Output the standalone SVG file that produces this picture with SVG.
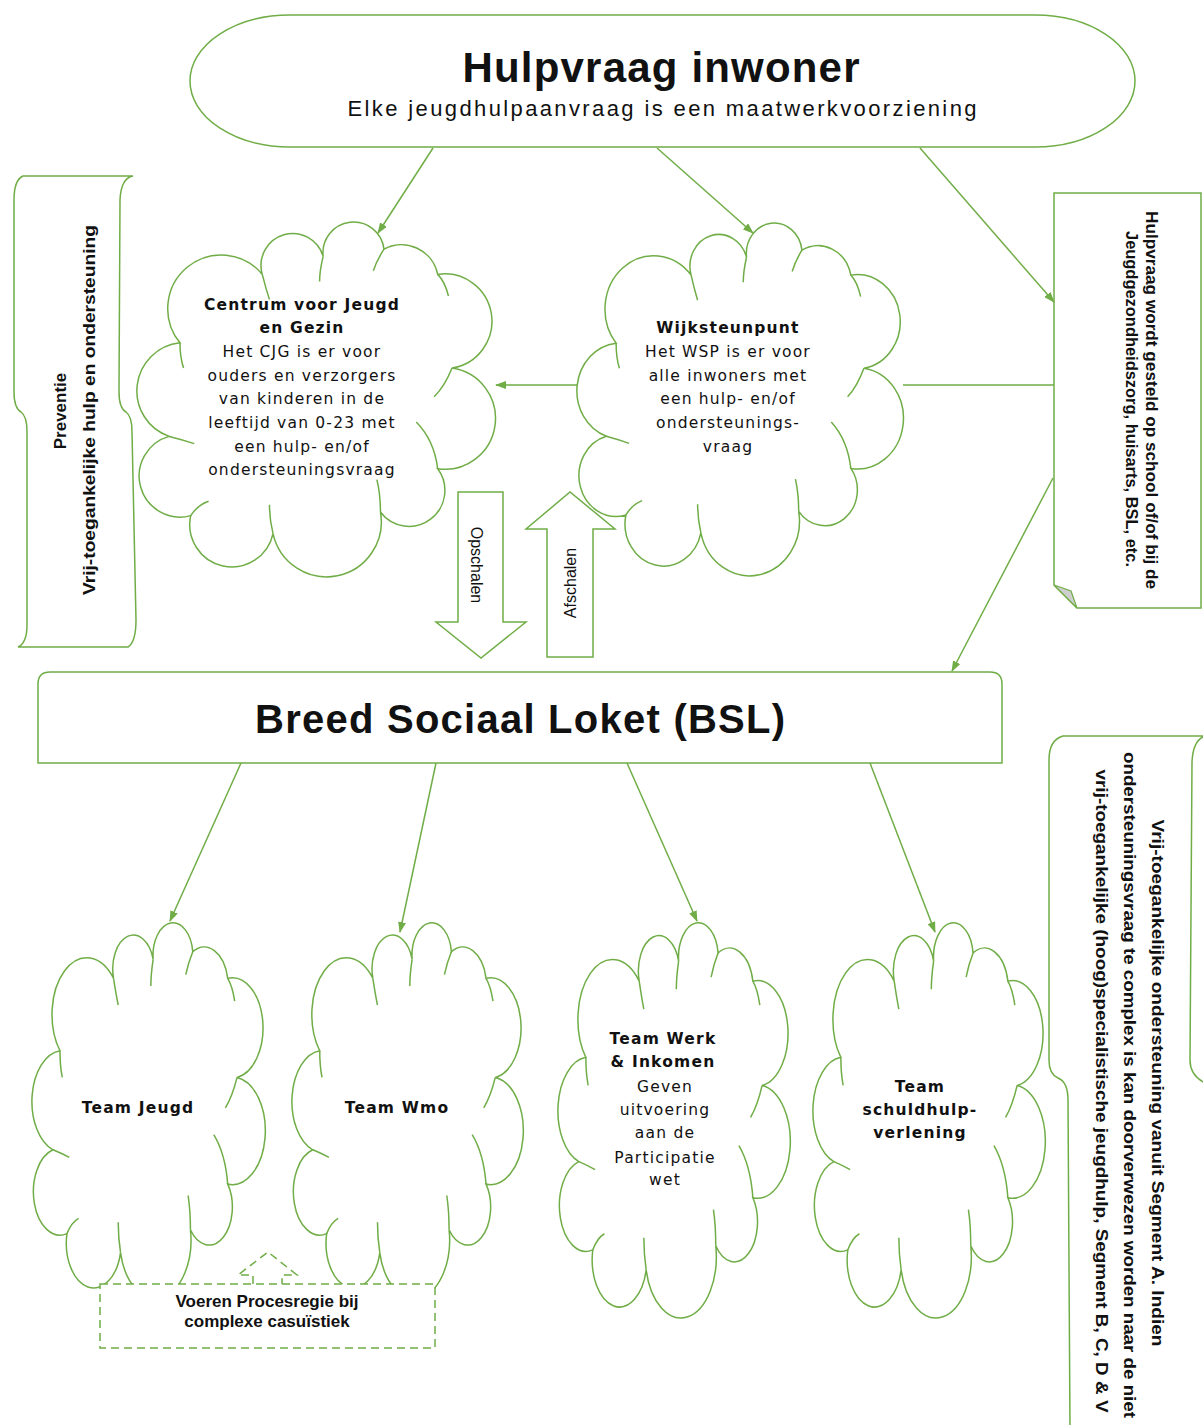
<svg xmlns="http://www.w3.org/2000/svg" xmlns:xlink="http://www.w3.org/1999/xlink" width="1203" height="1425" viewBox="0 0 1203 1425">
<style>
.sh{fill:#fff;stroke:#70AD47;stroke-width:1.5}
.cl{fill:#fff;stroke:#70AD47;stroke-width:1.5}
.tk{fill:none;stroke:#70AD47;stroke-width:1.5}
.cn{fill:none;stroke:#70AD47;stroke-width:1.5}
.ds{fill:#fff;stroke:#70AD47;stroke-width:1.5;stroke-dasharray:8 5}
.ct{font-family:"DejaVu Sans",Verdana,sans-serif;font-size:15.5px;letter-spacing:1.2px;fill:#111;text-anchor:middle}
.cb{font-weight:bold}
.lb{font-family:"Liberation Sans",Arial,sans-serif;fill:#111;text-anchor:middle}
</style>
<defs>
<marker id="ah" markerUnits="userSpaceOnUse" markerWidth="11" markerHeight="8" refX="10" refY="4" orient="auto">
<path d="M0,0 L11,4 L0,8 Z" fill="#70AD47"/>
</marker>
<path id="cloudOut" vector-effect="non-scaling-stroke" d="M12,33 A14.9,14.9 0 0 1 35,14 A8.8,8.8 0 0 1 52,9 A8.5,8.5 0 0 1 69,7 A10.3,10.3 0 0 1 84,14 A13.1,13.1 0 0 1 88,40 A14.1,14.1 0 0 1 84,68 A10,10 0 0 1 68,80 A15.3,15.3 0 0 1 38,86 A11.7,11.7 0 0 1 15,81 A11.4,11.4 0 0 1 9,59 A13.4,13.4 0 0 1 12,33 Z"/>
<path id="cloudTick" vector-effect="non-scaling-stroke" d="M35,14 Q36,18 37,21 M52,9 Q51,13 51,16 M69,7 Q67,10 66,13 M84,14 Q86,16 87,20 M88,40 Q86,45 83,48 M84,68 Q83,60 78,55 M68,80 Q68,75 67,71 M38,86 Q37,82 37,78 M15,81 Q17,78 20,77 M9,59 Q13,60 16,61 M12,33 Q12,37 13,40"/>
</defs>
<rect width="1203" height="1425" fill="#fff"/>

<g id="hulpvraag">
<path class="sh" d="M290,15 H1035 A100,66 0 0 1 1035,147 H290 A100,66 0 0 1 290,15 Z"/>
<text class="lb" x="661" y="82" font-size="42" font-weight="bold" textLength="397" lengthAdjust="spacing">Hulpvraag inwoner</text>
<text class="lb" x="662" y="116" font-size="22" textLength="629" lengthAdjust="spacing">Elke jeugdhulpaanvraag is een maatwerkvoorziening</text>
</g>

<g id="preventie">
<path class="sh" d="M23,176 H133 Q121,178 120,200 L119,392 Q119,408 126,412 Q132,416 132,432 L136,620 Q136,642 128,647 H18 Q27,643 27,625 L27,432 Q27,416 21,412 Q14,408 14,392 L14,200 Q14,180 23,176 Z"/>
<text class="lb" transform="translate(66,411) rotate(-90)" font-size="17" font-weight="bold">Preventie</text>
<text class="lb" transform="translate(95,410) rotate(-90)" font-size="17" font-weight="bold" textLength="370" lengthAdjust="spacingAndGlyphs">Vrij-toegankelijke hulp en ondersteuning</text>
</g>

<g id="cjg">
<use href="#cloudOut" class="cl" transform="translate(137,224) scale(3.58,3.6)"/>
<use href="#cloudTick" class="tk" transform="translate(137,224) scale(3.58,3.6)"/>
<text class="ct cb" x="302" y="310">Centrum voor Jeugd</text>
<text class="ct cb" x="302" y="333">en Gezin</text>
<text class="ct" x="302" y="357">Het CJG is er voor</text>
<text class="ct" x="302" y="381">ouders en verzorgers</text>
<text class="ct" x="302" y="404">van kinderen in de</text>
<text class="ct" x="302" y="428">leeftijd van 0-23 met</text>
<text class="ct" x="302" y="452">een hulp- en/of</text>
<text class="ct" x="302" y="475">ondersteuningsvraag</text>
</g>

<g id="wsp">
<use href="#cloudOut" class="cl" transform="translate(577,225) scale(3.26,3.58)"/>
<use href="#cloudTick" class="tk" transform="translate(577,225) scale(3.26,3.58)"/>
<text class="ct cb" x="728" y="333">Wijksteunpunt</text>
<text class="ct" x="728" y="357">Het WSP is er voor</text>
<text class="ct" x="728" y="381">alle inwoners met</text>
<text class="ct" x="728" y="404">een hulp- en/of</text>
<text class="ct" x="728" y="428">ondersteunings-</text>
<text class="ct" x="728" y="452">vraag</text>
</g>

<g id="document">
<path class="sh" d="M1054,193 H1201 V608 H1077 L1054,585 Z"/>
<path d="M1054,585 L1077,608 L1071,591 Z" fill="#cfcfcf" stroke="#70AD47" stroke-width="1.2"/>
<text class="lb" transform="translate(1146,400) rotate(90)" font-size="16" font-weight="bold" textLength="378" lengthAdjust="spacingAndGlyphs">Hulpvraag wordt gesteld op school of/of bij de</text>
<text class="lb" transform="translate(1126,399) rotate(90)" font-size="16" font-weight="bold" textLength="336" lengthAdjust="spacingAndGlyphs">Jeugdgezondheidszorg, huisarts, BSL, etc.</text>
</g>

<g id="opschalen">
<path class="sh" d="M458,492 H503 V622 H526 L481,658 L436,622 H458 Z"/>
<text class="lb" transform="translate(471,565) rotate(90)" font-size="16">Opschalen</text>
</g>

<g id="afschalen">
<path class="sh" d="M547,657 V529 H526 L570,492 L615,529 H593 V657 Z"/>
<text class="lb" transform="translate(576,583) rotate(-90)" font-size="16">Afschalen</text>
</g>

<g id="bsl">
<path class="sh" d="M38,763 V684 Q38,672 50,672 H990 Q1002,672 1002,684 V763 Z"/>
<text class="lb" x="520" y="733" font-size="40" font-weight="bold" textLength="530" lengthAdjust="spacing">Breed Sociaal Loket (BSL)</text>
</g>

<g id="team-jeugd">
<use href="#cloudOut" class="cl" transform="translate(32,925) scale(2.33,3.81)"/>
<use href="#cloudTick" class="tk" transform="translate(32,925) scale(2.33,3.81)"/>
<text class="ct cb" x="138" y="1113">Team Jeugd</text>
</g>

<g id="team-wmo">
<use href="#cloudOut" class="cl" transform="translate(292,925) scale(2.31,3.81)"/>
<use href="#cloudTick" class="tk" transform="translate(292,925) scale(2.31,3.81)"/>
<text class="ct cb" x="397" y="1113">Team Wmo</text>
</g>

<g id="team-werk">
<use href="#cloudOut" class="cl" transform="translate(558,925) scale(2.32,4.01)"/>
<use href="#cloudTick" class="tk" transform="translate(558,925) scale(2.32,4.01)"/>
<text class="ct cb" x="663" y="1044">Team Werk</text>
<text class="ct cb" x="663" y="1067">&amp; Inkomen</text>
<text class="ct" x="665" y="1092">Geven</text>
<text class="ct" x="665" y="1115">uitvoering</text>
<text class="ct" x="665" y="1138">aan de</text>
<text class="ct" x="665" y="1163">Participatie</text>
<text class="ct" x="665" y="1185">wet</text>
</g>

<g id="team-schuldhulp">
<use href="#cloudOut" class="cl" transform="translate(813,925) scale(2.32,4.01)"/>
<use href="#cloudTick" class="tk" transform="translate(813,925) scale(2.32,4.01)"/>
<text class="ct cb" x="920" y="1092">Team</text>
<text class="ct cb" x="920" y="1115">schuldhulp-</text>
<text class="ct cb" x="920" y="1138">verlening</text>
</g>

<g id="procesregie">
<path class="ds" d="M253,1284 V1275 H238 L268,1252 L297,1275 H282 V1284"/>
<rect class="ds" x="100" y="1284" width="335" height="64"/>
<text class="lb" x="267" y="1307" font-size="17" font-weight="bold">Voeren Procesregie bij</text>
<text class="lb" x="267" y="1327" font-size="17" font-weight="bold">complexe casuïstiek</text>
</g>

<g id="segment">
<path class="sh" d="M1063,736 H1205 Q1193,740 1192,762 L1190,1060 Q1190,1078 1210,1085 L1210,1430 L1070,1430 L1068,1100 Q1068,1082 1058,1078 Q1049,1074 1049,1060 L1049,760 Q1049,740 1063,736 Z"/>
<text class="lb" transform="translate(1152,1083) rotate(90)" font-size="16" font-weight="bold" textLength="527" lengthAdjust="spacingAndGlyphs">Vrij-toegankelijke ondersteuning vanuit Segment A. Indien</text>
<text class="lb" transform="translate(1124,1085) rotate(90)" font-size="16" font-weight="bold" textLength="666" lengthAdjust="spacingAndGlyphs">ondersteuningsvraag te complex is kan doorverwezen worden naar de niet</text>
<text class="lb" transform="translate(1096,1091) rotate(90)" font-size="16" font-weight="bold" textLength="643" lengthAdjust="spacingAndGlyphs">vrij-toegankelijke (hoog)specialistische jeugdhulp, Segment B, C, D &amp; V</text>
</g>

<g id="connectors">
<path class="cn" marker-end="url(#ah)" d="M433,148 L378,233"/>
<path class="cn" marker-end="url(#ah)" d="M657,148 L753,233"/>
<path class="cn" marker-end="url(#ah)" d="M920,148 L1054,302"/>
<path class="cn" marker-end="url(#ah)" d="M1054,385 H903 M577,385 H496"/>
<path class="cn" marker-end="url(#ah)" d="M1053,478 L952,671"/>
<path class="cn" marker-end="url(#ah)" d="M241,763 L170,921"/>
<path class="cn" marker-end="url(#ah)" d="M436,763 L400,932"/>
<path class="cn" marker-end="url(#ah)" d="M627,763 L697,921"/>
<path class="cn" marker-end="url(#ah)" d="M870,763 L935,932"/>
</g>
</svg>
